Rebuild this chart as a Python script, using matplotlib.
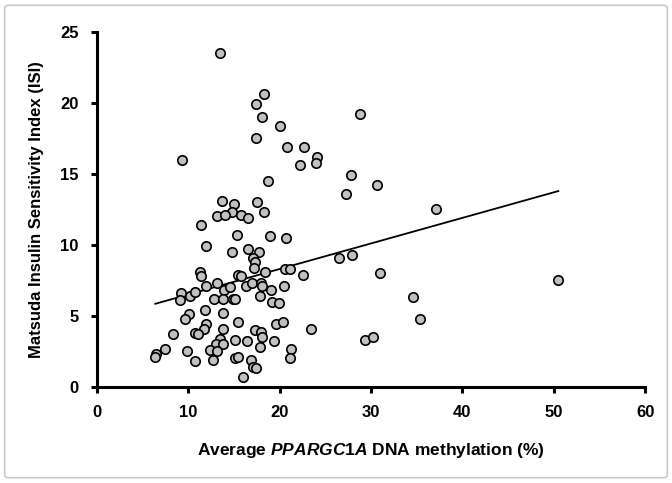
import numpy as np
import matplotlib.pyplot as plt
from matplotlib.patches import FancyBboxPatch

plt.rcParams['font.family'] = ['Liberation Sans', 'DejaVu Sans']
plt.rcParams['mathtext.fontset'] = 'custom'
plt.rcParams['mathtext.it'] = 'Liberation Sans:bold:italic'
plt.rcParams['mathtext.rm'] = 'Liberation Sans:bold'

# methylation (%) vs ISI
metyl = [13.5, 18.3, 17.4, 18.1, 28.8, 20.1, 17.4, 20.8, 22.7, 24.1,
         24.0, 22.2, 9.3, 27.8, 18.7, 30.7, 27.3, 13.7, 15.0, 17.5,
         14.8, 18.3, 13.2, 14.0, 15.8, 16.6, 37.1, 11.4, 15.3, 19.0,
         20.7, 12.0, 14.8, 16.6, 17.8, 17.1, 17.3, 17.2, 18.4, 20.6,
         21.1, 22.6, 26.5, 27.9, 31.0, 11.3, 11.4, 15.4, 15.8, 50.5,
         9.2, 9.1, 10.2, 10.8, 12.0, 13.2, 13.9, 14.6, 12.8, 13.8,
         14.9, 15.1, 16.3, 17.0, 18.0, 18.1, 20.5, 17.9, 19.1, 19.2,
         19.9, 34.6, 11.8, 13.8, 15.4, 10.1, 9.6, 11.9, 11.7, 10.8,
         11.1, 13.8, 8.3, 13.5, 13.0, 13.8, 12.4, 13.2, 15.1, 16.4,
         17.3, 18.0, 18.1, 17.9, 19.4, 19.6, 20.4, 23.4, 35.4, 29.3,
         30.2, 21.2, 21.1, 9.9, 10.8, 12.7, 15.1, 15.5, 16.9, 17.1,
         17.4, 16.0, 7.5, 6.5, 6.4]
isi = [23.5, 20.6, 19.9, 19.0, 19.2, 18.4, 17.5, 16.9, 16.9, 16.2,
       15.8, 15.6, 16.0, 14.9, 14.5, 14.2, 13.6, 13.1, 12.9, 13.0,
       12.3, 12.3, 12.0, 12.1, 12.1, 11.9, 12.5, 11.4, 10.7, 10.6,
       10.5, 9.9, 9.5, 9.7, 9.5, 9.1, 8.8, 8.4, 8.1, 8.3,
       8.3, 7.9, 9.1, 9.3, 8.0, 8.1, 7.8, 7.9, 7.8, 7.5,
       6.6, 6.1, 6.4, 6.7, 7.1, 7.3, 6.8, 7.0, 6.2, 6.2,
       6.2, 6.2, 7.1, 7.3, 7.3, 7.1, 7.1, 6.4, 6.8, 6.0,
       5.9, 6.3, 5.4, 5.2, 4.6, 5.1, 4.8, 4.4, 4.1, 3.8,
       3.7, 4.1, 3.7, 3.4, 3.0, 3.0, 2.6, 2.5, 3.3, 3.2,
       4.0, 3.9, 3.5, 2.8, 3.2, 4.4, 4.6, 4.1, 4.8, 3.3,
       3.5, 2.7, 2.0, 2.5, 1.8, 1.9, 2.0, 2.1, 1.9, 1.4,
       1.3, 0.7, 2.7, 2.3, 2.1]

# regression line
nachylenie = 0.180
wyraz_wolny = 4.70

fig = plt.figure(figsize=(6.72, 4.83), dpi=100)
ax = fig.add_axes([0.144, 0.199, 0.816, 0.735])

ax.scatter(metyl, isi, s=46, facecolor='#c0c0c0', edgecolor='black',
           linewidth=1.2, zorder=3)
xl = np.array([min(metyl), max(metyl)])
ax.plot(xl, wyraz_wolny + nachylenie * xl, color='black', lw=1.3, zorder=2)

ax.set_xlim(0, 60)
ax.set_ylim(0, 25)
ax.set_xticks([0, 10, 20, 30, 40, 50, 60])
ax.set_yticks([0, 5, 10, 15, 20, 25])
ax.spines['top'].set_visible(False)
ax.spines['right'].set_visible(False)
ax.spines['left'].set_linewidth(2.2)
ax.spines['bottom'].set_linewidth(2.2)
ax.tick_params(direction='out', length=4, width=2.2, labelsize=12, pad=9)
for t in ax.get_xticklabels() + ax.get_yticklabels():
    t.set_fontweight('bold')

ax.set_xlabel(r'Average $\mathit{PPARGC1A}$ DNA methylation (%)',
              fontsize=12.5, fontweight='bold', labelpad=15)
ax.set_ylabel('Matsuda Insulin Sensitivity Index (ISI)', fontsize=12,
              fontweight='bold', labelpad=12)

ramka = FancyBboxPatch((0.007, 0.011), 0.986, 0.978, transform=fig.transFigure,
                       boxstyle='round,pad=0,rounding_size=0.006',
                       facecolor='none', edgecolor='#c8c8c8', lw=1.2)
fig.patches.append(ramka)

fig.savefig('out.png', dpi=100)
